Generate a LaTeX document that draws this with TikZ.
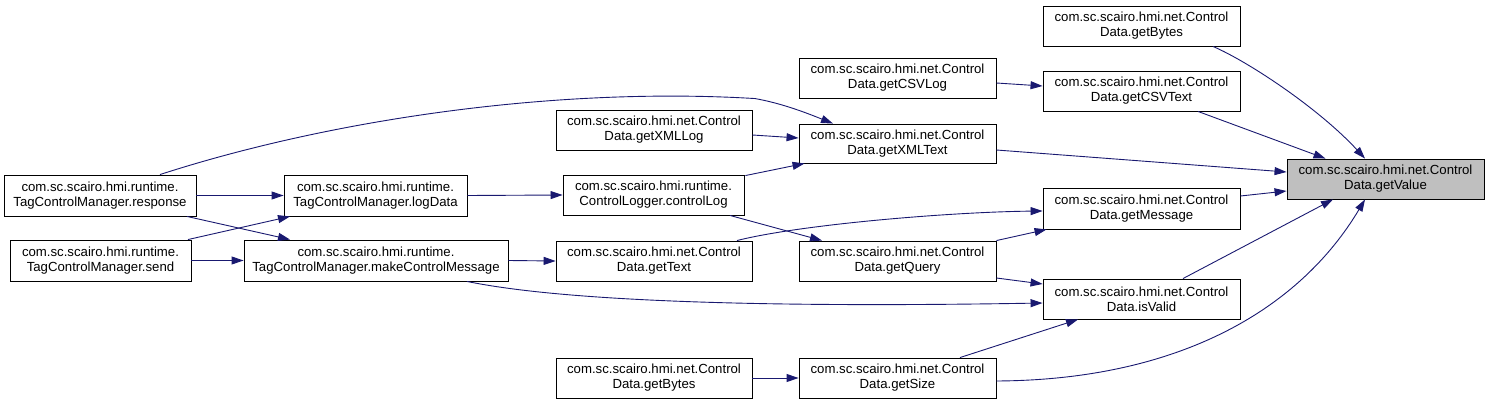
\documentclass[tikz,border=0pt]{standalone}
\usepackage{fontspec}
\setmainfont{Liberation Sans}
\usetikzlibrary{arrows.meta}
\definecolor{edgeblue}{HTML}{191970}
\definecolor{hilite}{HTML}{BFBFBF}
\tikzset{
  fn/.style={draw=black, line width=0.9pt, fill=white, inner sep=0pt, align=center,
    font=\fontsize{13.2}{15}\selectfont, minimum height=40pt},
  cur/.style={fn, fill=hilite},
  call/.style={draw=edgeblue, line width=0.9pt, -{Triangle[length=12pt,width=8pt]}}
}
\begin{document}
\begin{tikzpicture}[x=1pt,y=-1pt]
\useasboundingbox (0,0) rectangle (1489,404);
% column 5
\node[cur, minimum width=197pt] (gV) at (1385.5,179) {com.sc.scairo.hmi.net.Control\\Data.getValue};
% column 4
\node[fn, minimum width=197pt] (gbT) at (1141.5,26) {com.sc.scairo.hmi.net.Control\\Data.getBytes};
\node[fn, minimum width=197pt] (cst) at (1141.5,91) {com.sc.scairo.hmi.net.Control\\Data.getCSVText};
\node[fn, minimum width=197pt, minimum height=41pt] (gM) at (1141.5,208.5) {com.sc.scairo.hmi.net.Control\\Data.getMessage};
\node[fn, minimum width=197pt] (iV) at (1141.5,299) {com.sc.scairo.hmi.net.Control\\Data.isValid};
% column 3
\node[fn, minimum width=197pt] (csl) at (897.5,78) {com.sc.scairo.hmi.net.Control\\Data.getCSVLog};
\node[fn, minimum width=197pt, minimum height=39pt] (xt) at (897.5,143.5) {com.sc.scairo.hmi.net.Control\\Data.getXMLText};
\node[fn, minimum width=197pt] (gQ) at (897.5,261) {com.sc.scairo.hmi.net.Control\\Data.getQuery};
\node[fn, minimum width=197pt] (gS) at (897.5,378) {com.sc.scairo.hmi.net.Control\\Data.getSize};
% column 2
\node[fn, minimum width=196pt] (xl) at (654,130) {com.sc.scairo.hmi.net.Control\\Data.getXMLLog};
\node[fn, minimum width=181pt] (cL) at (653.5,195) {com.sc.scairo.hmi.runtime.\\ControlLogger.controlLog};
\node[fn, minimum width=196pt] (gT) at (654,261) {com.sc.scairo.hmi.net.Control\\Data.getText};
\node[fn, minimum width=196pt] (gbB) at (654,378) {com.sc.scairo.hmi.net.Control\\Data.getBytes};
% column 1
\node[fn, minimum width=183pt, minimum height=41pt] (lD) at (375.5,195.5) {com.sc.scairo.hmi.runtime.\\TagControlManager.logData};
\node[fn, minimum width=264pt, minimum height=41pt] (mCM) at (376,260.5) {com.sc.scairo.hmi.runtime.\\TagControlManager.makeControlMessage};
% column 0
\node[fn, minimum width=192pt, minimum height=41pt] (rs) at (100,195.5) {com.sc.scairo.hmi.runtime.\\TagControlManager.response};
\node[fn, minimum width=181pt, minimum height=41pt] (sd) at (100.5,260.5) {com.sc.scairo.hmi.runtime.\\TagControlManager.send};

% edges into getValue
\draw[call] ([xshift=71.5]gbT.south) .. controls +(37,16) and +(-45,-49) .. ([xshift=-20.5]gV.north);
\draw[call] ([xshift=56.5]cst.south) -- ([xshift=-60]gV.north);
\draw[call] ([yshift=-6.5]xt.east) -- ([yshift=7]gV.west);
\draw[call] ([yshift=12.5]gM.east) -- ([yshift=-12]gV.west);
\draw[call] ([xshift=41.5]iV.north) -- ([xshift=-52.5]gV.south);
\draw[call] ([yshift=-3]gS.east) .. controls +(184,-1) and +(-65,109) .. ([xshift=-20.5]gV.south);
% column 3 -> 4
\draw[call] ([yshift=-5]csl.east) -- ([yshift=5]cst.west);
\draw[call] (gQ.north east) -- ([xshift=4]gM.south west);
\draw[call] ([yshift=-17]gQ.east) -- ([yshift=15]iV.west);
\draw[call] ([xshift=62.5]gS.north) -- ([xshift=-63.5]iV.south);
% column 2 -> 3/4
\draw[call] ([yshift=-5]xl.east) -- ([yshift=5.5]xt.west);
\draw[call] ([xshift=1,yshift=-1]cL.north east) -- ([xshift=6]xt.south west);
\draw[call] ([xshift=76.5]cL.south) -- ([xshift=-75.5]gQ.north);
\draw[call] ([xshift=83]gT.north) .. controls +(63,-16) and +(-93,1) .. ([yshift=-2.5]gM.west);
\draw[call] (gbB.east) -- (gS.west);
% column 1 -> 2/4
\draw[call] (lD.east) -- (cL.west);
\draw[call] (mCM.east) -- (gT.west);
\draw[call] ([xshift=91]mCM.south) .. controls +(93,19) and +(-293,5) .. ([yshift=-4]iV.west);
% column 0 -> ...
\draw[call] ([xshift=60]rs.north) .. controls +(170,-55) and +(-200,-12) .. ([xshift=-142.5,yshift=25]xt.north)
   .. controls +(28,5) and +(-25,-10) .. ([xshift=-64.5]xt.north);
\draw[call] (rs.east) -- (lD.west);
\draw[call] ([xshift=87]rs.south) -- ([xshift=-86]mCM.north);
\draw[call] ([xshift=87.5]sd.north) -- ([xshift=-85.5]lD.south);
\draw[call] (sd.east) -- (mCM.west);
\end{tikzpicture}
\end{document}
